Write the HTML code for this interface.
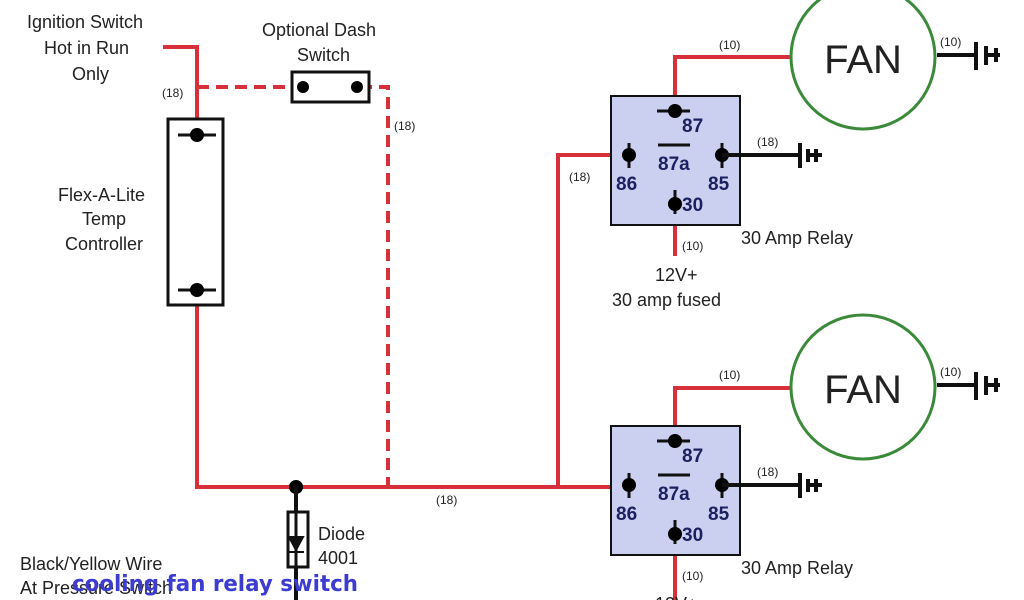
<!DOCTYPE html>
<html><head><style>body{margin:0;background:#fff}svg{display:block}text{font-family:"Liberation Sans",sans-serif;fill:#222}</style></head><body>
<svg width="1024" height="600" viewBox="0 0 1024 600">
<g stroke="#d8303a" stroke-width="4" fill="none">
<path d="M163 47H197V118"/><path d="M197 305V487H628"/><path d="M558 487V155H625"/>
<path d="M675 105V57H790"/><path d="M675 205V256"/>
<path d="M675 434V388H790"/><path d="M675 535V600"/>
<path d="M197 87H300M360 87H388V487" stroke-dasharray="12,7"/>
</g>
<rect x="292" y="72" width="77" height="30" fill="#fff" stroke="#111" stroke-width="3"/>
<circle cx="303" cy="87" r="6"/><circle cx="357" cy="87" r="6"/>
<rect x="168" y="119" width="55" height="186" fill="#fff" stroke="#111" stroke-width="3"/>
<g stroke="#111" stroke-width="3"><path d="M178 135H216M178 290H216"/></g>
<circle cx="197" cy="135" r="7"/><circle cx="197" cy="290" r="7"/>
<circle cx="296" cy="487" r="7"/>
<path d="M296 487V600" stroke="#111" stroke-width="4"/>
<rect x="288" y="512" width="20" height="55" fill="#fff" stroke="#111" stroke-width="3"/>
<path d="M296 512V567" stroke="#111" stroke-width="3"/>
<path d="M289 537H303L296 550Z M288 552H304" fill="#111" stroke="#111" stroke-width="2"/>
<g id="r">
<rect x="611" y="96" width="129" height="129" fill="#ccd0f0" stroke="#111" stroke-width="2"/>
<path d="M657 111H690M629 143V168M722 143V168M675 190V214M658 145H690" stroke="#111" stroke-width="3"/>
<circle cx="675" cy="111" r="7"/><circle cx="629" cy="155" r="7"/><circle cx="722" cy="155" r="7"/><circle cx="675" cy="204" r="7"/>
<path d="M722 155H800M800 143V168M808 149V162M816 149V162M808 155H822" stroke="#111" stroke-width="4"/>
<g font-size="19" font-weight="bold"><text x="682" y="132" style="fill:#1a2060">87</text><text x="658" y="170" style="fill:#1a2060">87a</text><text x="616" y="190" style="fill:#1a2060">86</text><text x="708" y="190" style="fill:#1a2060">85</text><text x="682" y="211" style="fill:#1a2060">30</text></g>
<text x="741" y="244" font-size="18">30 Amp Relay</text>
<text x="757" y="146" font-size="12">(18)</text>
<text x="682" y="250" font-size="12">(10)</text>
<text x="719" y="49" font-size="12">(10)</text>
<circle cx="863" cy="57" r="72" fill="#fff" stroke="#3a8a3a" stroke-width="3"/>
<text x="863" y="73" font-size="40" text-anchor="middle">FAN</text>
<path d="M937 55H976M976 42V70M986 46V65M996 48V62M986 55H1000" stroke="#111" stroke-width="4"/>
<text x="940" y="46" font-size="12">(10)</text>
</g>
<use href="#r" y="330"/>
<g font-size="18">
<text x="27" y="28">Ignition Switch</text><text x="44" y="54">Hot in Run</text><text x="72" y="80">Only</text>
<text x="262" y="36">Optional Dash</text><text x="297" y="61">Switch</text>
<text x="58" y="201">Flex-A-Lite</text><text x="82" y="225">Temp</text><text x="65" y="250">Controller</text>
<text x="655" y="281">12V+</text><text x="612" y="306">30 amp fused</text>
<text x="318" y="540">Diode</text><text x="318" y="564">4001</text>
<text x="20" y="570">Black/Yellow Wire</text><text x="20" y="594">At Pressure Switch</text>
<text x="655" y="610">12V+</text>
</g>
<g font-size="12"><text x="162" y="97">(18)</text><text x="394" y="130">(18)</text><text x="569" y="181">(18)</text><text x="436" y="504">(18)</text></g>
<text x="72" y="591" font-size="22" font-weight="bold" textLength="286" lengthAdjust="spacingAndGlyphs" style="fill:#3c3cd0;font-family:'DejaVu Sans',sans-serif">cooling fan relay switch</text>
</svg>
</body></html>
